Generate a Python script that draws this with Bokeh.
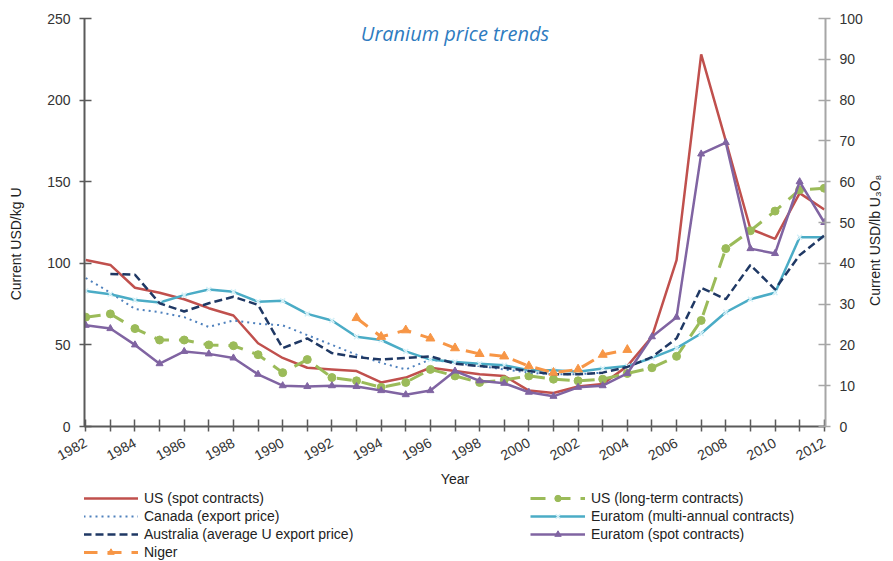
import math
from bokeh.plotting import figure
from bokeh.layouts import column
from bokeh.models import Range1d, LinearAxis, FixedTicker, Legend, LegendItem, Label
from bokeh.embed import file_html
from bokeh.resources import INLINE

nan = float("nan")

years = list(range(1982, 2013))

us_spot = [102, 99, 85, 82, 78, 72.5, 68, 51, 42, 36,
           35, 34, 27, 30, 36, 34, 32, 31, 22, 20.5,
           24.5, 26, 37, 55, 102, 228, 175, 121, 115, 143,
           133]
us_longterm = [67, 69, 60, 53, 53, 50, 49.5, 44, 33, 41,
               30, 28, 24, 27, 35, 31, 27, 28.5, 31, 29,
               28, 29, 32.5, 36, 43, 65, 109, 120, 132, 145,
               146]
canada = [91, 82, 72, 70, 67, 61, 65, 63, 62, 56,
          50, 44, 39, 35, 41, 39, 37, 35, 33, 32,
          32, 33, nan, nan, nan, nan, nan, nan, nan, nan,
          nan]
euratom_multi = [83, 81, 77.5, 76, 80.5, 84, 82.5, 76.5, 77, 69,
                 65, 55, 53, 46, 41, 39.5, 38.5, 37.5, 34.5, 34.5,
                 33.5, 35.5, 37, 42, 48, 57, 70, 78, 82, 116,
                 116]
australia = [nan, 93.5, 93, 75.5, 70.5, 75.5, 79.5, 74.5, 48, 54,
             45, 42.5, 41, 42, 43, 38.5, 37, 36, 34, 32,
             32, 33, 36.5, 42.5, 54, 85, 78, 99, 84, 105,
             117]
euratom_spot = [62, 60, 50, 38.5, 46, 44.5, 42, 32, 25, 24.5,
                25, 24.5, 22, 19.5, 22, 34, 28, 26.5, 21, 18.5,
                24, 25, 32.5, 55, 67, 167, 174, 109, 106, 150,
                125]
niger = [nan, nan, nan, nan, nan, nan, nan, nan, nan, nan,
         nan, 66.5, 55, 59, 54, 48, 44.5, 43, 37, 33,
         35, 44, 47, nan, nan, nan, nan, nan, nan, nan,
         nan]

x_tick_years = list(range(1982, 2013))
left_ticks = [0, 50, 100, 150, 200, 250]
right_ticks = list(range(0, 101, 10))

TITLE = "Uranium price trends"
names = ["US (spot contracts)", "US (long-term contracts)", "Canada (export price)",
         "Euratom (multi-annual contracts)", "Australia (average U export price)",
         "Euratom (spot contracts)", "Niger"]
LEFT_LABEL = "Current USD/kg U"
RIGHT_LABEL = "Current USD/lb U\u2083O\u2088"

FONT = "Liberation Sans"
PAD = "\u00a0"

# series styles: (values, line kwargs, marker kwargs or None)
styles = [
    (us_spot, dict(line_color="#c0504d", line_width=2.5), None),
    (us_longterm, dict(line_color="#9bbb59", line_width=3, line_dash="15 10"),
     dict(marker="circle", size=8, fill_color="#9bbb59", line_color="#9bbb59")),
    (canada, dict(line_color="#4f81bd", line_width=2, line_dash="2 4"), None),
    (euratom_multi, dict(line_color="#4bacc6", line_width=2.5),
     dict(marker="x", size=7, line_color="#d6f1f8", line_width=1.5)),
    (australia, dict(line_color="#1f3864", line_width=2.5, line_dash="8 4"), None),
    (euratom_spot, dict(line_color="#8064a2", line_width=2.5),
     dict(marker="triangle", size=7, fill_color="#8064a2", line_color="#8064a2")),
    (niger, dict(line_color="#f79646", line_width=3, line_dash="14 10"),
     dict(marker="triangle", size=9, fill_color="#f79646", line_color="#f79646")),
]


def draw(fig):
    rends = []
    for vals, lk, mk in styles:
        rs = [fig.line(years, vals, **lk)]
        if mk is not None:
            rs.append(fig.scatter(years, vals, **mk))
        rends.append(rs)
    return rends


p = figure(width=893, height=490, output_backend="svg", toolbar_location=None,
           x_range=Range1d(1981.95, 2012.05), y_range=Range1d(0, 250),
           min_border_left=84, min_border_right=67, min_border_top=18,
           min_border_bottom=63, x_axis_label="Year",
           y_axis_label=LEFT_LABEL + PAD * 11)
p.xgrid.grid_line_color = None
p.ygrid.grid_line_color = None
p.outline_line_color = None
p.background_fill_color = "white"

p.extra_y_ranges = {"r": Range1d(0, 100)}
rax = LinearAxis(y_range_name="r")
p.add_layout(rax, "right")
props = rax.properties()
if "axis_label_orientation" in props and "axis_label_align" in props:
    rax.axis_label_orientation = math.pi / 2
    rax.axis_label_align = "start"
    rax.axis_label = PAD * 31 + RIGHT_LABEL
else:
    rax.axis_label = PAD * 10 + RIGHT_LABEL


def style_axis(ax, color):
    ax.axis_line_color = color
    ax.axis_line_width = 2
    ax.major_tick_line_color = color
    ax.major_tick_line_width = 1.5
    ax.major_tick_in = 7
    ax.major_tick_out = 5
    ax.minor_tick_line_color = None
    ax.major_label_text_font = FONT
    ax.major_label_text_font_size = "14px"
    ax.major_label_text_color = "#333333"
    ax.axis_label_text_font = FONT
    ax.axis_label_text_font_size = "14px"
    ax.axis_label_text_font_style = "normal"
    ax.axis_label_text_color = "#222222"


xax = p.xaxis[0]
yax = p.yaxis[0]
style_axis(xax, "#5a5a5a")
style_axis(yax, "#5a5a5a")
style_axis(rax, "#a6a6a6")

xax.ticker = FixedTicker(ticks=x_tick_years)
xax.major_label_overrides = {y: ("" if (y - 1982) % 2 else str(y)) for y in x_tick_years}
xax.major_label_orientation = 0.5
xax.major_label_standoff = 10
xax.axis_label_standoff = 3

yax.ticker = FixedTicker(ticks=left_ticks)
yax.major_label_standoff = 9
yax.axis_label_standoff = 20

rax.ticker = FixedTicker(ticks=right_ticks)
rax.major_label_standoff = 9
rax.axis_label_standoff = 9

draw(p)

title = Label(x=1997, y=241, text=TITLE, text_align="center", text_baseline="middle",
              text_font="Open Sans", text_font_style="italic", text_font_size="20px",
              text_color="#2e7bc0")
p.add_layout(title)

# legend strip: same series drawn outside its visible range, legends inside its frame
lp = figure(width=893, height=71, output_backend="svg", toolbar_location=None,
            x_range=Range1d(0, 1), y_range=Range1d(0, 1),
            x_axis_type=None, y_axis_type=None,
            min_border_left=0, min_border_right=0, min_border_top=0, min_border_bottom=0)
lp.xgrid.grid_line_color = None
lp.ygrid.grid_line_color = None
lp.outline_line_color = None
lp_rends = draw(lp)


def make_legend(idx, loc):
    return Legend(items=[LegendItem(label=names[i], renderers=lp_rends[i]) for i in idx],
                  location=loc, orientation="vertical",
                  glyph_width=55, glyph_height=16, label_height=16, spacing=2,
                  padding=0, margin=0, label_standoff=6,
                  label_text_font=FONT, label_text_font_size="14px",
                  label_text_color="#222222",
                  border_line_color=None, background_fill_alpha=0)


lp.add_layout(make_legend([0, 2, 4, 6], (-1, 1)))
lp.add_layout(make_legend([1, 3, 5], (446, 19)))

layout = column(p, lp, spacing=0)
open("out.html", "w").write(file_html(layout, INLINE))
